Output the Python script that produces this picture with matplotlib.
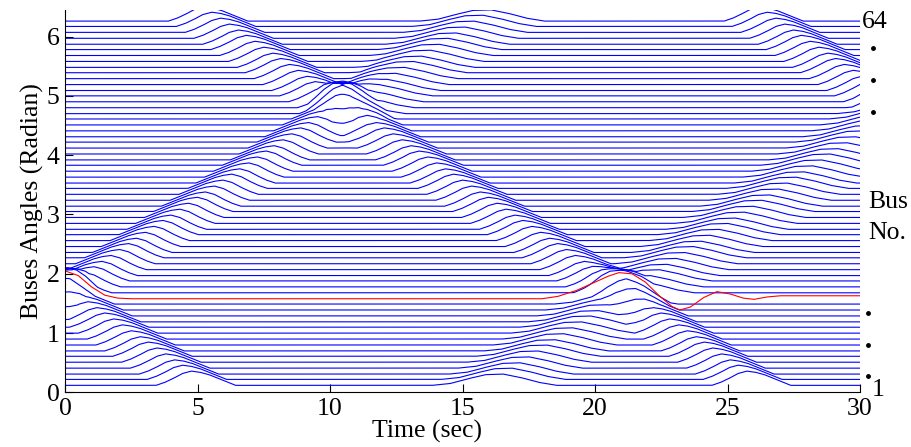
import numpy as np
import matplotlib.pyplot as plt

plt.rcParams['font.family'] = ['Liberation Serif', 'DejaVu Serif']
plt.rcParams['font.size'] = 18.5

# base angle of each bus (rad), bus 1 .. bus 64, read where the lines are flat
bus_base = [0.12, 0.22, 0.31, 0.41, 0.51, 0.61, 0.70, 0.80, 0.90, 1.00,
            1.10, 1.19, 1.29, 1.39, 1.49, 1.58, 1.68, 1.78, 1.88, 1.97,
            2.07, 2.17, 2.27, 2.36, 2.46, 2.56, 2.66, 2.75, 2.85, 2.95,
            3.05, 3.14, 3.24, 3.34, 3.44, 3.53, 3.63, 3.73, 3.83, 3.92,
            4.02, 4.12, 4.22, 4.31, 4.41, 4.51, 4.61, 4.70, 4.80, 4.90,
            5.00, 5.09, 5.19, 5.29, 5.39, 5.48, 5.58, 5.68, 5.78, 5.87,
            5.97, 6.07, 6.17, 6.26]
red_bus = 16

# red bus read point by point (time s, angle rad)
red_t = [0.0, 0.5, 1.0, 1.5, 2.0, 2.5, 18.0, 18.6, 19.3, 20.0, 20.5, 20.9,
         21.4, 21.9, 22.4, 22.9, 23.2, 23.6, 24.1, 24.6, 25.1, 25.6, 26.0,
         26.5, 27.0, 30.0]
red_y = [2.05, 1.97, 1.78, 1.64, 1.59, 1.58, 1.58, 1.62, 1.72, 1.86, 1.96, 2.02,
         2.00, 1.86, 1.64, 1.45, 1.39, 1.44, 1.60, 1.70, 1.66, 1.59, 1.57,
         1.61, 1.63, 1.63]

# kink tracks (time s, unwrapped angle rad)
down_t = [0.0, 10.5, 21.0, 30.0]
down_y = [2.05, -1.10, -4.23, -6.95]
up_t = [0.0, 10.5, 21.0, 30.0]
up_y = [2.05, 5.20, 8.33, 11.05]
soft_from = [10.5, 12.0]   # up kink loses its tight core after the first crossing

# lift of a line against its distance below the kink (rad)
pin_s = [0.0, 0.1, 0.2, 0.3, 0.4, 0.5, 0.6, 0.7, 0.8, 0.9]
pin_d = [0.0, 0.06, 0.12, 0.18, 0.22, 0.24, 0.20, 0.12, 0.05, 0.0]
soft_s = [-0.2, 0.0, 0.2, 0.4, 0.6, 0.8, 1.0, 1.2]
soft_d = [0.0, 0.03, 0.11, 0.18, 0.19, 0.13, 0.05, 0.0]
period = 6.28

t = np.linspace(0, 30, 1501)
k_down = np.interp(t, down_t, down_y)
k_up = np.interp(t, up_t, up_y)
blend = np.clip((t - soft_from[0]) / (soft_from[1] - soft_from[0]), 0, 1)


def lift(k, b, s_pts, d_pts):
    s = np.mod(k - b + 0.5, period) - 0.5
    return s, np.interp(s, s_pts, d_pts, left=0, right=0)


def bus_angle(b):
    s_d, d_d = lift(k_down, b, pin_s, pin_d)
    s_u, d_p = lift(k_up, b, pin_s, pin_d)
    _, d_s = lift(k_up, b, soft_s, soft_d)
    d_u = (1 - blend) * d_p + blend * d_s
    cap = np.maximum(np.where(d_d > 0, s_d, 0), np.where(d_u > 0, s_u + 0.2, 0))
    return b + np.minimum(d_d + d_u, cap)


fig = plt.figure(figsize=(9.12, 4.47), dpi=100)
ax = fig.add_axes([0.0713, 0.122, 0.8717, 0.856])

for i, b in enumerate(bus_base):
    if i + 1 != red_bus:
        ax.plot(t, bus_angle(b), color='#0000ff', lw=0.8)
ax.plot(red_t, red_y, color='#ff0000', lw=0.8)

ax.set_xlim(0, 30)
ax.set_ylim(0, 6.45)
ax.set_xticks([0, 5, 10, 15, 20, 25, 30])
ax.set_yticks([0, 1, 2, 3, 4, 5, 6])
ax.spines['top'].set_visible(False)
ax.spines['right'].set_visible(False)
ax.tick_params(direction='in', length=6, width=0.8, pad=4)
ax.set_ylabel('Buses Angles (Radian)', labelpad=2)
ax.text(0.455, -0.103, 'Time (sec)', transform=ax.transAxes,
        ha='center', va='center')

# bus numbers on the right
ax.text(30.08, 6.24, '64', ha='left', va='center', clip_on=False)
ax.text(30.3, 3.21, 'Bus', ha='left', va='center', clip_on=False)
ax.text(30.3, 2.69, 'No.', ha='left', va='center', clip_on=False)
ax.text(30.45, 0.04, '1', ha='left', va='center', clip_on=False)
ax.plot([30.5, 30.5, 30.5], [5.81, 5.27, 4.73], 'k.', ms=5, clip_on=False)
ax.plot([30.3, 30.3, 30.3], [1.34, 0.80, 0.28], 'k.', ms=5, clip_on=False)

fig.savefig('out.png', dpi=100)
